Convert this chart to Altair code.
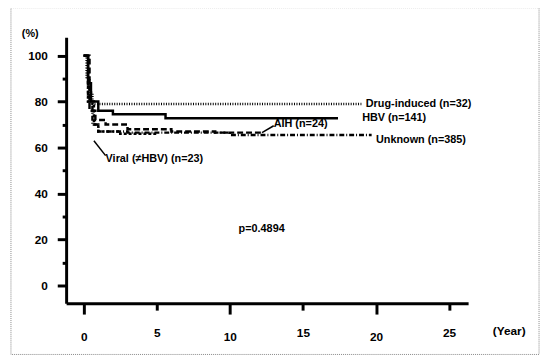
import altair as alt
import pandas as pd

# Survival curves (year, %)
drug_t = [0, 0.2, 0.4, 0.6, 19.0]
drug_v = [100, 90, 84, 79, 79]
hbv_t = [0, 0.3, 0.5, 1.0, 2.0, 5.6, 17.4]
hbv_v = [100, 88, 80, 76, 74.5, 72.8, 72.8]
aih_t = [0, 0.4, 0.8, 1.5, 3.0, 6.0, 9.0, 12.2]
aih_v = [100, 76, 72, 70, 68, 67, 66.5, 66.5]
unk_t = [0, 0.3, 0.6, 1.0, 3.0, 10.0, 19.7]
unk_v = [100, 80, 70, 67, 66.5, 65.5, 65.5]
vir_t = [0, 0.3, 0.7, 1.0, 2.5, 5.0]
vir_v = [100, 80, 70, 67, 66, 66]

series = [
    ("Drug-induced", drug_t, drug_v),
    ("HBV", hbv_t, hbv_v),
    ("AIH", aih_t, aih_v),
    ("Unknown", unk_t, unk_v),
    ("Viral", vir_t, vir_v),
]
dash = {"Drug-induced": [1, 1.5], "HBV": [1, 0], "AIH": [6, 3],
        "Unknown": [5, 2, 1, 2], "Viral": [3, 2]}

# Labels (year, %, text)
lab_t = [19.3, 19.05, 20.0, 13.0, 1.5, 10.6]
lab_v = [79, 72.8, 63.4, 70.2, 55, 24.4]
lab_s = ["Drug-induced (n=32)", "HBV (n=141)", "Unknown (n=385)",
         "AIH (n=24)", "Viral (\u2260HBV) (n=23)", "p=0.4894"]

# Leader lines
lead_t = [12.2, 0.7]
lead_t2 = [13.0, 1.5]
lead_v = [66.5, 63]
lead_v2 = [69.5, 56.5]

x_ticks = [0, 5, 10, 15, 20, 25]
y_ticks = [0, 10, 20, 30, 40, 50, 60, 70, 80, 90, 100]

FONT = "Liberation Sans"

xs = alt.Scale(domain=[-1.2, 26.3], nice=False, zero=False)
ys = alt.Scale(domain=[-7.7, 108], nice=False, zero=False)

XAX = alt.Axis(values=x_ticks, title=None, grid=False,
               tickSize={"condition": {"test": "datum.value % 10 === 0", "value": 11}, "value": 7})
YAX = alt.Axis(values=y_ticks, title=None, grid=False,
               tickSize={"condition": {"test": "datum.value % 20 === 0", "value": 9}, "value": 4},
               labelExpr="datum.value % 20 === 0 ? datum.label : ''")

layers = []
for name, t, v in series:
    df = pd.DataFrame({"t": t, "v": v})
    layers.append(
        alt.Chart(df).mark_line(interpolate="step-after", color="black",
                                strokeWidth=2.5, strokeDash=dash[name])
        .encode(
            x=alt.X("t:Q", scale=xs, title=None, axis=XAX),
            y=alt.Y("v:Q", scale=ys, title=None, axis=YAX),
        )
    )

ldf = pd.DataFrame({"t": lab_t, "v": lab_v, "s": lab_s})
layers.append(
    alt.Chart(ldf).mark_text(align="left", baseline="middle", font=FONT,
                             fontSize=11, fontWeight="bold", color="black")
    .encode(x=alt.X("t:Q", scale=xs, title=None, axis=XAX),
            y=alt.Y("v:Q", scale=ys, title=None, axis=YAX), text="s:N")
)

rdf = pd.DataFrame({"t": lead_t, "t2": lead_t2, "v": lead_v, "v2": lead_v2})
layers.append(
    alt.Chart(rdf).mark_rule(color="black", strokeWidth=1.5)
    .encode(x=alt.X("t:Q", scale=xs, title=None, axis=XAX), x2="t2:Q",
            y=alt.Y("v:Q", scale=ys, title=None, axis=YAX), y2="v2:Q")
)

# Axis unit annotations
units = pd.DataFrame({"s": ["(%)"]})
layers.append(
    alt.Chart(units).mark_text(align="left", baseline="middle", font=FONT,
                               fontSize=11, fontWeight="bold", color="black")
    .encode(x=alt.value(-45), y=alt.value(-3), text="s:N")
)
units2 = pd.DataFrame({"s": ["(Year)"]})
layers.append(
    alt.Chart(units2).mark_text(align="left", baseline="middle", font=FONT,
                                fontSize=12, fontWeight="bold", color="black")
    .encode(x=alt.value(433), y=alt.value(298), text="s:N")
)

# Outer frame
frame = pd.DataFrame({"a": [0]})
layers.append(
    alt.Chart(frame).mark_rect(fill=None, stroke="#888888", strokeWidth=1,
                               strokeDash=[1, 1])
    .encode(x=alt.value(-56), x2=alt.value(480), y=alt.value(-30), y2=alt.value(322))
)

chart = alt.layer(*layers).properties(
    width=408, height=270,
    background="white",
    autosize=alt.AutoSizeParams(type="none"),
    padding={"left": 59, "top": 27, "right": 75, "bottom": 58},
).configure_view(stroke=None).configure_axis(
    grid=False, domainColor="black", domainWidth=3, tickColor="black", tickWidth=3,
    labelFont=FONT, labelFontSize=12, labelFontWeight="bold", labelColor="black",
).configure_axisX(labelPadding=18).configure_axisY(labelPadding=10)

chart.save("out.html", embed_options={"renderer": "svg", "actions": False})
